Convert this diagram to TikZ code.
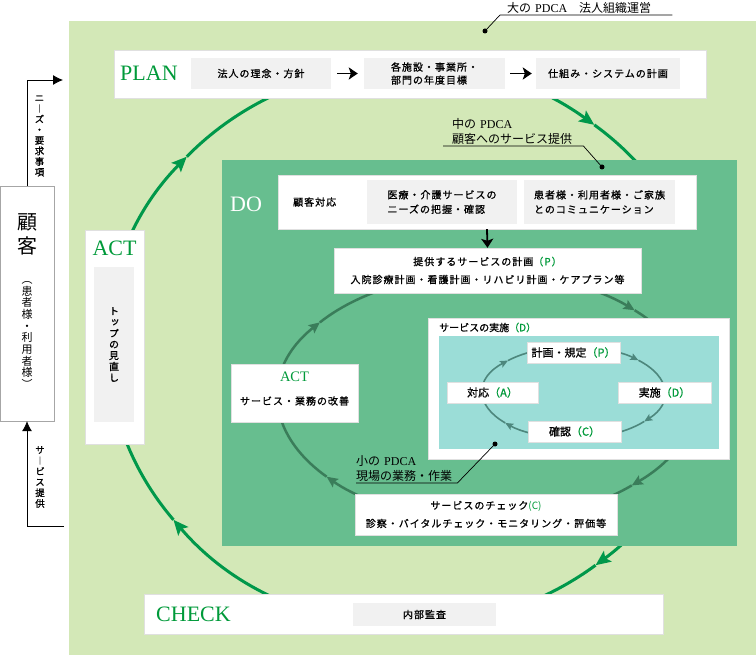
\documentclass[tikz,border=0pt]{standalone}
\usepackage{fontspec}
\setmainfont{Liberation Serif}
\newfontfamily\jp{Noto Sans CJK JP}[LetterSpace=10, FakeBold=1]
\newfontfamily\jpb{Noto Sans CJK JP}[FakeBold=1]
\newfontfamily\jpl{Noto Sans CJK JP}
\newfontfamily\jpv{Noto Sans CJK JP}[RawFeature=+vert, FakeBold=1]
\newfontfamily\jpvl{Noto Sans CJK JP}[RawFeature=+vert]
\usetikzlibrary{arrows.meta}
\definecolor{bgL}{HTML}{D3E8B7}
\definecolor{bgM}{HTML}{67BE8F}
\definecolor{bgT}{HTML}{9BDDD7}
\definecolor{boxG}{HTML}{F1F1F1}
\definecolor{colG}{HTML}{00984A}
\definecolor{colT}{HTML}{009A3A}
\definecolor{colM}{HTML}{3A7D5A}
\definecolor{colS}{HTML}{4D877D}
\tikzstyle{wbox}=[draw=black!12, fill=white, inner sep=0pt]
\tikzstyle{gbox}=[fill=boxG, inner sep=0pt, align=left, font=\jp\fontsize{10}{13}\selectfont]
\tikzstyle{txt}=[inner sep=0pt, align=center, font=\jp\fontsize{10}{18}\selectfont]
\tikzstyle{ttl}=[inner sep=0pt, anchor=west, text=colT, font=\fontsize{22}{22}\selectfont]
\tikzstyle{vtxt}=[inner sep=0pt, align=center, font=\jpv\fontsize{10}{11.1}\selectfont]
\tikzstyle{plab}=[inner sep=0pt, inner ysep=1.5pt, anchor=south west, align=left, font=\jpl\fontsize{12}{14.5}\selectfont]
\tikzstyle{bigarc}=[line width=3pt, colG, -{Stealth[length=15pt,width=13pt,inset=3pt]}]
\tikzstyle{midarc}=[line width=2.5pt, colM, -{Stealth[length=11pt,width=10pt,inset=2pt]}]
\tikzstyle{smallarc}=[line width=1.6pt, colS, -{Stealth[length=8pt,width=7pt,inset=1.5pt]}]
\tikzstyle{steparrow}=[line width=1.8pt, -{Stealth[length=9pt,width=12pt,inset=2pt]}]
\tikzstyle{sidearrow}=[line width=0.8pt, -{Latex[length=10pt,width=10pt]}]
\tikzstyle{leadline}=[line width=0.7pt]
\tikzstyle{ldot}=[circle, fill=black, inner sep=0pt, minimum size=5pt]

\begin{document}
\begin{tikzpicture}[x=1pt,y=-1pt]
\useasboundingbox (0,0) rectangle (756,655);
\fill[bgL] (69,21) rectangle (756,655);
\coordinate (bigc) at (409,345.5);
\foreach \a/\b in {-52/51.7, 51.7/141.5, 141.5/222.4, 222.4/308}
  \draw[bigarc] (bigc) ++(\a:301 and 280) arc[start angle=\a, end angle=\b, x radius=301, y radius=280];

\node[fill=bgM, inner sep=0pt, minimum width=515, minimum height=386] (doarea) at (479.5,353) {};
\coordinate (midc) at (486,397);
\foreach \a/\b in {-44.4/45.5, 45.5/140, 140/217, 217/315.6}
  \draw[midarc] (midc) ++(\a:208 and 124) arc[start angle=\a, end angle=\b, x radius=208, y radius=124];

\node[wbox, minimum width=592, minimum height=48] (plan) at (410,74) {};
\node[ttl] (plantitle) at (120,73.5) {PLAN};
\node[gbox, minimum width=140, minimum height=31] (policy) at (261,73.5) {法人の理念・方針};
\node[gbox, minimum width=141, minimum height=31] (target) at (434.5,73.5) {各施設・事業所・\\部門の年度目標};
\node[gbox, minimum width=144, minimum height=31] (system) at (608,73.5) {仕組み・システムの計画};
\draw[steparrow, shorten <=6pt, shorten >=6pt] (policy) -- (target);
\draw[steparrow, shorten <=5pt, shorten >=4pt] (target) -- (system);

\node[wbox, draw=black!35, minimum width=54, minimum height=235] (cust) at (27,303.5) {};
\node[vtxt, font=\jpvl\fontsize{20}{24}\selectfont] (custname) at (27,234) {顧\\客};
\node[vtxt, font=\jpvl\fontsize{11}{11.7}\selectfont] (custsub) at (27,335) {︵\\患\\者\\様\\・\\利\\用\\者\\様\\︶};
\coordinate (needsend) at (63,80);
\coordinate (servstart) at (64,526);
\draw[sidearrow] (cust.north) |- (needsend);
\draw[sidearrow] (servstart) -| (cust.south);
\node[vtxt, font=\jpv\fontsize{9.5}{10.6}\selectfont] (needs) at (39.5,136) {ニ\\︱\\ズ\\・\\要\\求\\事\\項};
\node[vtxt, font=\jpv\fontsize{9.5}{10.7}\selectfont] (service) at (40,477) {サ\\︱\\ビ\\ス\\提\\供};

\node[wbox, minimum width=59, minimum height=214] (act) at (114.5,337) {};
\node[ttl, anchor=center] (acttitle) at (114.5,248) {ACT};
\node[gbox, vtxt, minimum width=40, minimum height=155] (review) at (114,344.5) {ト\\ッ\\プ\\の\\見\\直\\し};

\node[wbox, minimum width=519, minimum height=40] (check) at (403.5,614) {};
\node[ttl] (checktitle) at (156,614) {CHECK};
\node[gbox, minimum width=143, minimum height=23] (audit) at (424.5,614.5) {内部監査};

\node[ttl, text=white] (dotitle) at (230,204) {DO};
\node[wbox, minimum width=418, minimum height=54] (care) at (487,202) {};
\node[txt, anchor=west] (caretitle) at (293,202) {顧客対応};
\node[gbox, font=\jp\fontsize{10}{14.5}\selectfont, minimum width=150, minimum height=44] (grasp) at (442,202) {医療・介護サービスの\\ニーズの把握・確認};
\node[gbox, font=\jp\fontsize{10}{14.5}\selectfont, minimum width=151, minimum height=44] (talk) at (599.5,202) {患者様・利用者様・ご家族\\とのコミュニケーション};
\node[wbox, txt, minimum width=307, minimum height=45] (svcplan) at (487.5,270.5) {提供するサービスの計画{\color{colT}（P）}\\入院診療計画・看護計画・リハビリ計画・ケアプラン等};
\draw[steparrow] (care.south) -- (svcplan.north);

\node[wbox, minimum width=127, minimum height=58] (improve) at (294.5,393) {};
\node[ttl, anchor=center, font=\fontsize{14.5}{14.5}\selectfont] (improvetitle) at (294.5,377) {ACT};
\node[txt] (improvetext) at (294.5,401) {サービス・業務の改善};

\node[wbox, txt, minimum width=262, minimum height=41] (svccheck) at (486,514.5) {サービスのチェック{\color{colT}\jpl (C)}\\診察・バイタルチェック・モニタリング・評価等};

\node[wbox, minimum width=301, minimum height=141] (impl) at (578.5,388.5) {};
\node[txt, anchor=west, font=\jpb\fontsize{10}{12}\selectfont] (impltitle) at (439,327.5) {サービスの実施{\color{colT}（D）}};
\node[fill=bgT, inner sep=0pt, minimum width=280, minimum height=113] (implarea) at (579,392.5) {};
\coordinate (smallc) at (573.5,392.5);
\foreach \a/\b in {-44.5/39, 39/138.6, 138.6/224, 224/315.5}
  \draw[smallarc] (smallc) ++(\a:91 and 46) arc[start angle=\a, end angle=\b, x radius=91, y radius=46];
\node[wbox, txt, font=\jpb\fontsize{11}{11}\selectfont, minimum width=93, minimum height=21] (rule) at (573.5,352.5) {計画・規定{\color{colT}（P）}};
\node[wbox, txt, font=\jpb\fontsize{11}{11}\selectfont, minimum width=91, minimum height=21] (respond) at (492.5,392.5) {対応{\color{colT}（A）}};
\node[wbox, txt, font=\jpb\fontsize{11}{11}\selectfont, minimum width=93, minimum height=21] (perform) at (664.5,392.5) {実施{\color{colT}（D）}};
\node[wbox, txt, font=\jpb\fontsize{11}{11}\selectfont, minimum width=93, minimum height=21] (confirm) at (574.5,431.5) {確認{\color{colT}（C）}};

\node[plab, inner xsep=7pt, text width=158] (biglab) at (500,15) {大の {\rmfamily PDCA}　法人組織運営};
\coordinate (bigdot) at (485,31);
\draw[leadline] (biglab.south east) -- (biglab.south west) -- (bigdot);
\node[ldot] (bigdotmark) at (bigdot) {};

\node[plab, inner xsep=9pt, text width=122] (midlab) at (443,146) {中の {\rmfamily PDCA}\\顧客へのサービス提供};
\coordinate (middot) at (602,167);
\draw[leadline] (midlab.south west) -- (midlab.south east) -- (middot);
\node[ldot] (middotmark) at (middot) {};

\node[plab, text width=101] (smalllab) at (356,483) {小の {\rmfamily PDCA}\\現場の業務・作業};
\coordinate (smalldot) at (495,444);
\draw[leadline] (smalllab.south west) -- (smalllab.south east) -- (smalldot);
\node[ldot] (smalldotmark) at (smalldot) {};
\end{tikzpicture}
\end{document}
